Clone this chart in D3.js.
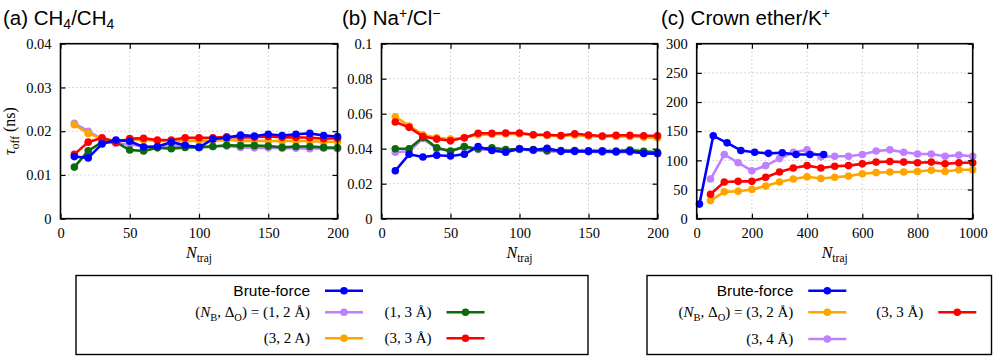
<!DOCTYPE html>
<html><head><meta charset="utf-8">
<script src="https://cdn.jsdelivr.net/npm/d3@7"></script>
<style>
body{margin:0;background:#fff;}
svg{display:block;}
</style></head>
<body>
<svg id="chart" width="996" height="363"></svg>
<script>
// ---------- DATA ----------
const xA = [10,20,30,40,50,60,70,80,90,100,110,120,130,140,150,160,170,180,190,200];
const aPurple = [0.0218,0.0200,0.0182,0.0172,0.0170,0.0165,0.0165,0.0165,0.0166,0.0165,0.0165,0.0166,0.0163,0.0162,0.0162,0.0161,0.0161,0.0160,0.0161,0.0160];
const aOrange = [0.0215,0.0195,0.0183,0.0178,0.0180,0.0180,0.0178,0.0177,0.0178,0.0178,0.0178,0.0180,0.0178,0.0178,0.0178,0.0177,0.0178,0.0177,0.0176,0.0176];
const aGreen  = [0.0118,0.0155,0.0175,0.0175,0.0157,0.0155,0.0162,0.0160,0.0163,0.0163,0.0165,0.0168,0.0167,0.0167,0.0166,0.0163,0.0165,0.0165,0.0163,0.0162];
const aRed    = [0.0147,0.0175,0.0185,0.0175,0.0183,0.0184,0.0180,0.0180,0.0185,0.0185,0.0185,0.0187,0.0186,0.0186,0.0188,0.0186,0.0186,0.0185,0.0183,0.0184];
const aBlue   = [0.0142,0.0139,0.0171,0.0180,0.0177,0.0164,0.0165,0.0175,0.0168,0.0163,0.0182,0.0185,0.0191,0.0189,0.0193,0.0190,0.0193,0.0195,0.0190,0.0188];

const xB = [10,20,30,40,50,60,70,80,90,100,110,120,130,140,150,160,170,180,190,200];
const bPurple = [0.0380,0.0385,0.0458,0.0400,0.0388,0.0405,0.0395,0.0395,0.0385,0.0395,0.0390,0.0385,0.0385,0.0385,0.0383,0.0380,0.0380,0.0380,0.0375,0.0372];
const bOrange = [0.0583,0.0530,0.0480,0.0462,0.0455,0.0462,0.0480,0.0482,0.0485,0.0485,0.0478,0.0475,0.0472,0.0478,0.0472,0.0468,0.0470,0.0470,0.0465,0.0462];
const bGreen  = [0.0400,0.0400,0.0465,0.0405,0.0385,0.0412,0.0400,0.0405,0.0395,0.0398,0.0395,0.0390,0.0390,0.0390,0.0388,0.0388,0.0387,0.0393,0.0385,0.0380];
const bRed    = [0.0553,0.0522,0.0470,0.0455,0.0445,0.0462,0.0488,0.0488,0.0490,0.0490,0.0480,0.0480,0.0475,0.0485,0.0478,0.0473,0.0477,0.0477,0.0474,0.0474];
const bBlue   = [0.0274,0.0368,0.0353,0.0363,0.0358,0.0368,0.0413,0.0390,0.0380,0.0400,0.0393,0.0402,0.0385,0.0385,0.0385,0.0385,0.0383,0.0385,0.0373,0.0372];

const xCBrute = [10,60,110,160,210,260,310,360,410,460];
const cBlue   = [25,142,130,117,114,112,113,110,110,110];
const xC = [50,100,150,200,250,300,350,400,450,500,550,600,650,700,750,800,850,900,950,1000];
const cPurple = [68,110,96,82,91,103,114,118,106,107,107,110,116,118,114,111,111,107,109,107];
const cOrange = [31,46,47,50,56,63,68,72,69,71,73,77,79,80,80,81,83,81,84,84];
const cRed    = [42,63,64,64,71,80,87,91,87,90,91,94,97,98,97,96,97,94,96,96];

const xTicksAB = [0,50,100,150,200];
const xTicksC = [0,200,400,600,800,1000];
const yTicksA = [0,0.01,0.02,0.03,0.04];
const yLabelsA = ["0","0.01","0.02","0.03","0.04"];
const yTicksB = [0,0.02,0.04,0.06,0.08,0.1];
const yLabelsB = ["0","0.02","0.04","0.06","0.08","0.1"];
const yTicksC = [0,50,100,150,200,250,300];
const yLabelsC = ["0","50","100","150","200","250","300"];

const COLORS = {blue:"#0000ff", purple:"#bf80ff", orange:"#ffa500", green:"#0b6b0b", red:"#ff0000"};
const SERIF = "'Liberation Serif','DejaVu Serif',serif";
const SANS = "'Liberation Sans',Arial,sans-serif";

// ---------- DRAW ----------
const svg = d3.select("#chart");
const plotTop = 43.7, plotBottom = 218.7;

function drawPanel(cfg){
  const g = svg.append("g");
  const x = d3.scaleLinear().domain(cfg.xDomain).range([cfg.left, cfg.right]);
  const y = d3.scaleLinear().domain(cfg.yDomain).range([plotBottom, plotTop]);
  // grid
  g.append("g").selectAll("line").data(cfg.xTicks.slice(1,-1)).join("line")
    .attr("x1",d=>x(d)).attr("x2",d=>x(d)).attr("y1",plotTop).attr("y2",plotBottom)
    .attr("stroke","#b0b0b0").attr("stroke-width",1).attr("stroke-dasharray","1,3");
  g.append("g").selectAll("line").data(cfg.yTicks.slice(1,-1)).join("line")
    .attr("y1",d=>y(d)).attr("y2",d=>y(d)).attr("x1",cfg.left).attr("x2",cfg.right)
    .attr("stroke","#b0b0b0").attr("stroke-width",1).attr("stroke-dasharray","1,3");
  // series
  const line = d3.line().x(d=>x(d[0])).y(d=>y(d[1]));
  cfg.series.forEach(s=>{
    const pts = s.x.map((xv,i)=>[xv,s.y[i]]);
    g.append("path").datum(pts).attr("d",line).attr("fill","none")
      .attr("stroke",s.color).attr("stroke-width",2.6).attr("stroke-linejoin","round");
    g.append("g").selectAll("circle").data(pts).join("circle")
      .attr("cx",d=>x(d[0])).attr("cy",d=>y(d[1])).attr("r",3.8).attr("fill",s.color);
  });
  // axes (ticks inward on all sides)
  const xb = d3.axisBottom(x).tickValues(cfg.xTicks).tickSize(-5).tickFormat(d3.format("d")).tickPadding(9);
  const xt = d3.axisTop(x).tickValues(cfg.xTicks).tickSize(-5).tickFormat("");
  const yl = d3.axisLeft(y).tickValues(cfg.yTicks).tickSize(-5).tickFormat((d,i)=>cfg.yLabels[i]).tickPadding(9);
  const yr = d3.axisRight(y).tickValues(cfg.yTicks).tickSize(-5).tickFormat("");
  const ax = [
    g.append("g").attr("transform",`translate(0,${plotBottom})`).call(xb),
    g.append("g").attr("transform",`translate(0,${plotTop})`).call(xt),
    g.append("g").attr("transform",`translate(${cfg.left},0)`).call(yl),
    g.append("g").attr("transform",`translate(${cfg.right},0)`).call(yr)
  ];
  ax.forEach(a=>{
    a.attr("font-family",SERIF).attr("font-size",14.5);
    a.select(".domain").remove();
    a.selectAll(".tick line").attr("stroke","#000").attr("stroke-width",1.2);
    a.selectAll("text").attr("fill","#000");
    a.selectAll(".tick text").filter(function(){return this.textContent==="";}).remove();
  });
  g.append("rect").attr("x",cfg.left).attr("y",plotTop).attr("width",cfg.right-cfg.left).attr("height",plotBottom-plotTop)
    .attr("fill","none").attr("stroke","#000").attr("stroke-width",1.6);
  // x label
  const xl = g.append("text").attr("font-family",SERIF).attr("x",(cfg.left+cfg.right)/2).attr("y",258)
    .attr("text-anchor","middle").attr("font-size",16);
  xl.append("tspan").text("N").style("font-style","italic");
  xl.append("tspan").text("traj").attr("dy",4).attr("font-size",11.5);
  // title
  const t = g.append("text").attr("font-family",SANS).attr("x",cfg.titleX).attr("y",25).attr("font-size",20.5);
  cfg.title(t);
}

drawPanel({left:60.5,right:337.5,xDomain:[0,200],yDomain:[0,0.04],xTicks:xTicksAB,yTicks:yTicksA,yLabels:yLabelsA,titleX:3,
  title:t=>{t.append("tspan").text("(a) CH");
            t.append("tspan").text("4").attr("dy",4).attr("font-size",14);
            t.append("tspan").text("/CH").attr("dy",-4);
            t.append("tspan").text("4").attr("dy",4).attr("font-size",14);},
  series:[{x:xA,y:aPurple,color:COLORS.purple},{x:xA,y:aOrange,color:COLORS.orange},{x:xA,y:aGreen,color:COLORS.green},
          {x:xA,y:aRed,color:COLORS.red},{x:xA,y:aBlue,color:COLORS.blue}]});
drawPanel({left:381.5,right:657.5,xDomain:[0,200],yDomain:[0,0.1],xTicks:xTicksAB,yTicks:yTicksB,yLabels:yLabelsB,titleX:342,
  title:t=>{t.append("tspan").text("(b) Na");
            t.append("tspan").text("+").attr("dy",-7).attr("font-size",14);
            t.append("tspan").text("/Cl").attr("dy",7);
            t.append("tspan").text("\u2212").attr("dy",-7).attr("font-size",14);},
  series:[{x:xB,y:bPurple,color:COLORS.purple},{x:xB,y:bOrange,color:COLORS.orange},{x:xB,y:bGreen,color:COLORS.green},
          {x:xB,y:bRed,color:COLORS.red},{x:xB,y:bBlue,color:COLORS.blue}]});
drawPanel({left:696.7,right:972.7,xDomain:[0,1000],yDomain:[0,300],xTicks:xTicksC,yTicks:yTicksC,yLabels:yLabelsC,titleX:661,
  title:t=>{t.append("tspan").text("(c) Crown ether/K");
            t.append("tspan").text("+").attr("dy",-7).attr("font-size",14);},
  series:[{x:xC,y:cPurple,color:COLORS.purple},{x:xC,y:cOrange,color:COLORS.orange},{x:xC,y:cRed,color:COLORS.red},
          {x:xCBrute,y:cBlue,color:COLORS.blue}]});

// y label
const ylab = svg.append("text").attr("font-family",SERIF).attr("transform","translate(15,131) rotate(-90)")
  .attr("text-anchor","middle").attr("font-size",16);
ylab.append("tspan").text("\u03c4").style("font-style","italic");
ylab.append("tspan").text("off").attr("dy",4).attr("font-size",11.5);
ylab.append("tspan").text(" (ns)").attr("dy",-4);

// ---------- LEGENDS ----------
function mathLabel(t, parts){
  parts.forEach(p=>{
    if(p==="NB"){ t.append("tspan").text("N").style("font-style","italic"); t.append("tspan").text("B").attr("dy",3.5).attr("font-size",10.5); t.append("tspan").attr("dy",-3.5).text(", "); }
    else if(p==="DO"){ t.append("tspan").text("\u0394"); t.append("tspan").text("O").attr("dy",3.5).attr("font-size",10.5); t.append("tspan").attr("dy",-3.5).text(")"); }
    else t.append("tspan").text(p);
  });
}
function legendEntry(g, textX, yc, color, labelFn){
  const t = g.append("text").attr("x",textX).attr("y",yc+5).attr("text-anchor","end");
  labelFn(t);
  g.append("line").attr("x1",textX+15).attr("x2",textX+53).attr("y1",yc).attr("y2",yc)
    .attr("stroke",color).attr("stroke-width",2.6);
  g.append("circle").attr("cx",textX+34).attr("cy",yc).attr("r",3.8).attr("fill",color);
}
const brute = t=>t.attr("font-family",SANS).attr("font-size",15.5).text("Brute-force");
const math = (parts)=>t=>{t.attr("font-family",SERIF).attr("font-size",15); mathLabel(t,parts);};

const L1 = svg.append("g");
L1.append("rect").attr("x",76).attr("y",275.5).attr("width",512).attr("height",79).attr("fill","#fff").attr("stroke","#000").attr("stroke-width",1.4);
legendEntry(L1,310,290.7,COLORS.blue,brute);
legendEntry(L1,310,312.3,COLORS.purple,math(["(","NB","DO"," = (1, 2 \u00c5)"]));
legendEntry(L1,431.5,312.3,COLORS.green,math(["(1, 3 \u00c5)"]));
legendEntry(L1,310,338.3,COLORS.orange,math(["(3, 2 A)"]));
legendEntry(L1,431.5,338.3,COLORS.red,math(["(3, 3 \u00c5)"]));

const L2 = svg.append("g");
L2.append("rect").attr("x",647).attr("y",275.5).attr("width",344.5).attr("height",79).attr("fill","#fff").attr("stroke","#000").attr("stroke-width",1.4);
legendEntry(L2,793.3,290.7,COLORS.blue,brute);
legendEntry(L2,793.3,312.3,COLORS.orange,math(["(","NB","DO"," = (3, 2 \u00c5)"]));
legendEntry(L2,923.3,312.3,COLORS.red,math(["(3, 3 \u00c5)"]));
legendEntry(L2,793.3,339,COLORS.purple,math(["(3, 4 \u00c5)"]));
</script>
</body></html>
